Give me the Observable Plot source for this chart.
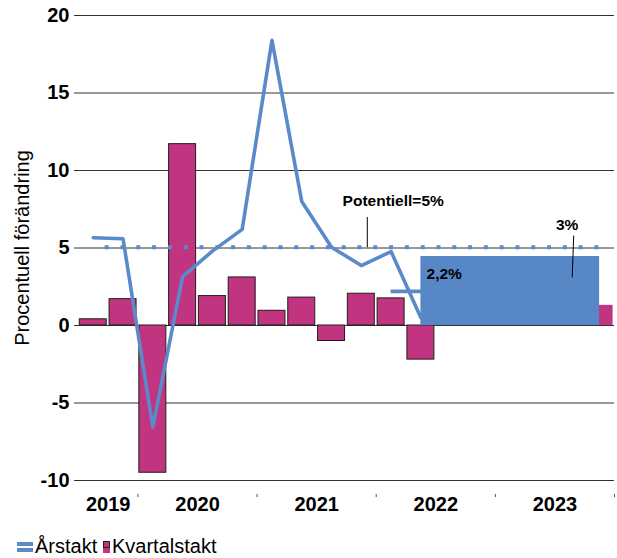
<!DOCTYPE html>
<html>
<head>
<meta charset="utf-8">
<script src="https://cdn.jsdelivr.net/npm/d3@7"></script>
<script src="https://cdn.jsdelivr.net/npm/@observablehq/plot@0.6"></script>
<style>
  body { margin: 0; background: #fff; font-family: "Liberation Sans", Arial, sans-serif; }
  #chart svg { display: block; }
  #legend { position: relative; height: 28px; font-size: 20px; line-height: 20px; color: #000; }
  #legend .item { position: absolute; top: 6px; display: flex; align-items: center; white-space: nowrap; }
  .sw-line { width: 16px; height: 10px; margin-right: 2px; margin-top: 2px;
             background: linear-gradient(#5A8ACA 0 4px, #fff 4px 6px, #5A8ACA 6px 10px); }
  .sw-bar { width: 7px; height: 12px; margin-right: 2px; margin-top: 1px; background: #C1347F; position: relative; }
  .sw-bar::before { content: ""; position: absolute; left: 0; top: 0; width: 5px; height: 5px; border: 1px solid #222; background: #C1347F; }
</style>
</head>
<body>
<div id="chart"></div>
<div id="legend">
  <div class="item" style="left:17px"><span class="sw-line"></span><span>Årstakt</span></div>
  <div class="item" style="left:103px"><span class="sw-bar"></span><span>Kvartalstakt</span></div>
</div>
<script>
// ---- data ----
const quarters = ["2019K3","2019K4","2020K1","2020K2","2020K3","2020K4","2021K1","2021K2","2021K3","2021K4",
                  "2022K1","2022K2","2022K3","2022K4","2023K1","2023K2","2023K3","2023K4"];
const kvartalstakt = [0.4, 1.7, -9.5, 11.7, 1.9, 3.1, 0.95, 1.8, -1.0, 2.05, 1.75, -2.2,
                      1.3, 1.3, 1.3, 1.3, 1.3, 1.3];
const arstakt = [5.66, 5.6, -6.56, 3.16, 4.8, 6.2, 18.4, 8.0, 5.05, 3.87, 4.77, 0.5,
                 null, null, null, null, null, null];
const prognosFrom = "2022K3";
const years = ["2019","2020","2021","2022","2023"];
const yTicks = [-10, -5, 0, 5, 10, 15, 20];
const potentiellValue = 5.05;
const potentiellFrom = 0.4, potentiellTo = 17.05;   // quarter-index positions
const arsmedel2022 = 2.2;                            // 2022 annual average
const arsmedel2022From = "2022K1", arsmedel2022To = "2022K4";
const prognos2023 = 4.45;
const prognos2023From = "2022K2", prognos2023To = "2023K4";
const centeredLabels = [
  {text: "Potentiell=5%", x: 10.07, y: 8.0},
  {text: "3%", x: 15.91, y: 6.45}
];
const startLabels = [
  {text: "2,2%", x: 11.19, y: 3.33}
];
const leaders = [
  {x1: 9.2, y1: 7.0, x2: 9.2, y2: 5.05},
  {x1: 16.13, y1: 5.8, x2: 16.08, y2: 3.1}
];

// ---- derived ----
const qi = q => quarters.indexOf(q);
const pStart = qi(prognosFrom);
const bars = quarters.map((q, i) => ({i, v: kvartalstakt[i], prognos: i >= pStart})).filter(d => d.v != null);
const lineData = quarters.map((q, i) => ({i, v: arstakt[i]})).filter(d => d.v != null);
const yearData = years.map(y => {
  const idx = quarters.map((q, i) => q.startsWith(y) ? i : null).filter(v => v != null);
  return {y, c: d3.mean(idx), end: d3.max(idx) + 0.5};
});

const font = '"Liberation Sans", Arial, sans-serif';
const pink = "#C1347F", blue = "#5A8ACA", rectBlue = "#5787C7";
const bw = 0.453;

const chart = Plot.plot({
  width: 617, height: 530,
  marginLeft: 74, marginRight: 3, marginTop: 15, marginBottom: 50,
  style: {fontFamily: font, background: "#fff", overflow: "visible", color: "#000"},
  x: {domain: [-0.63, 17.5], axis: null},
  y: {domain: [-10, 20], axis: null},
  marks: [
    Plot.ruleY(yTicks, {stroke: "#333", strokeWidth: 1}),
    Plot.axisY({ticks: yTicks, tickSize: 0, tickPadding: 5, fontSize: 20, fontWeight: "bold",
                label: null, tickFormat: d => String(d)}),
    Plot.text(["Procentuell förändring"], {frameAnchor: "left", textAnchor: "middle", dx: -52, rotate: -90, fontSize: 20}),
    Plot.rect(bars.filter(d => !d.prognos), {x1: d => d.i - bw, x2: d => d.i + bw, y1: 0, y2: "v",
              fill: pink, stroke: "#1e1e1e", strokeWidth: 1}),
    Plot.rect(bars.filter(d => d.prognos), {x1: d => d.i - bw, x2: d => d.i + bw, y1: 0, y2: "v", fill: pink}),
    Plot.ruleY([potentiellValue], {x1: potentiellFrom, x2: potentiellTo, stroke: blue, strokeWidth: 4,
               strokeDasharray: "4,11.8"}),
    Plot.line(lineData, {x: "i", y: "v", stroke: blue, strokeWidth: 3.6}),
    Plot.ruleY([arsmedel2022], {x1: qi(arsmedel2022From), x2: qi(arsmedel2022To), stroke: blue, strokeWidth: 3.6}),
    Plot.rect([prognos2023], {x1: qi(prognos2023From), x2: qi(prognos2023To), y1: 0, y2: d => d, fill: rectBlue}),
    Plot.link(leaders, {x1: "x1", y1: "y1", x2: "x2", y2: "y2", stroke: "#000", strokeWidth: 1}),
    Plot.text(centeredLabels, {x: "x", y: "y", text: "text", textAnchor: "middle", fontSize: 15.5, fontWeight: "bold", fill: "#000"}),
    Plot.text(startLabels, {x: "x", y: "y", text: "text", textAnchor: "start", fontSize: 15.5, fontWeight: "bold", fill: "#000"}),
    Plot.text(yearData, {x: "c", text: "y", frameAnchor: "bottom", dy: 30, fontSize: 20, fontWeight: "bold", fill: "#000"}),
    Plot.ruleX(yearData, {x: "end", y1: -10.9, y2: -11.1, stroke: "#555", strokeWidth: 1})
  ]
});
document.getElementById("chart").appendChild(chart);
</script>
</body>
</html>
